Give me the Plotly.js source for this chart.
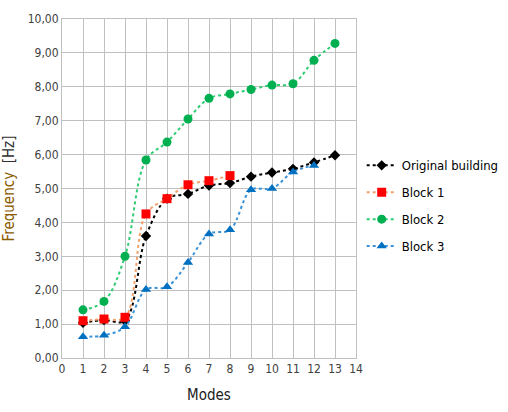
<!DOCTYPE html>
<html>
<head>
<meta charset="utf-8">
<script src="https://cdn.plot.ly/plotly-3.0.1.min.js"></script>
<style>html,body{margin:0;padding:0;background:#fff;}#chart{width:508px;height:412px;}</style>
</head>
<body>
<div id="chart"></div>
<script>
var modes = [1,2,3,4,5,6,7,8,9,10,11,12,13];
var modesBlock1 = [1,2,3,4,5,6,7,8];
var modesBlock3 = [1,2,3,4,5,6,7,8,9,10,11,12];
var original = [1.04,1.12,1.10,3.60,4.70,4.84,5.09,5.16,5.35,5.47,5.58,5.77,5.98];
var block1 = [1.10,1.15,1.20,4.25,4.70,5.11,5.23,5.38];
var block2 = [1.42,1.67,3.00,5.84,6.37,7.05,7.66,7.79,7.92,8.05,8.09,8.78,9.28];
var block3 = [0.63,0.67,0.92,2.02,2.10,2.82,3.66,3.78,4.96,5.00,5.49,5.68];
var seriesNames = ['Original building','Block 1','Block 2','Block 3'];

var FONT = '"DejaVu Sans Condensed", "Liberation Sans", Arial, sans-serif';

var traces = [
  {x: modes, y: original, name: seriesNames[0], legendgroup: 'a', mode: 'lines+markers', type: 'scatter',
   line: {color: '#000000', width: 2, dash: 'dot', shape: 'spline', smoothing: 1},
   marker: {symbol: 'diamond', size: 8, color: '#000000'}},
  {x: modesBlock1, y: block1, name: seriesNames[1], legendgroup: 'b', mode: 'lines+markers', type: 'scatter',
   line: {color: '#f4a06a', width: 2, dash: 'dot', shape: 'spline', smoothing: 1},
   marker: {symbol: 'square', size: 9, color: '#ff0000'}},
  {x: modes, y: block2, name: seriesNames[2], legendgroup: 'c', mode: 'lines+markers', type: 'scatter',
   line: {color: '#2ecc71', width: 2, dash: 'dot', shape: 'spline', smoothing: 1},
   marker: {symbol: 'circle', size: 9, color: '#00b050'}},
  {x: modesBlock3, y: block3, name: seriesNames[3], legendgroup: 'd', mode: 'lines+markers', type: 'scatter',
   line: {color: '#3a92d8', width: 2, dash: 'dot', shape: 'spline', smoothing: 1},
   marker: {symbol: 'triangle-up', size: 9, color: '#0070c0'}}
];

var layout = {
  width: 508, height: 412,
  margin: {l: 62, r: 152, t: 19, b: 54},
  paper_bgcolor: '#ffffff', plot_bgcolor: '#ffffff',
  separators: ',.',
  font: {family: FONT, color: '#404040', size: 12},
  showlegend: true,
  legend: {xref: 'container', yref: 'container', x: 0.712, xanchor: 'left', y: 0.635, yanchor: 'top',
           font: {family: FONT, size: 13, color: '#000000'},
           tracegroupgap: 7, itemwidth: 30, bgcolor: 'rgba(0,0,0,0)'},
  xaxis: {range: [0, 14], dtick: 1, tick0: 0, showgrid: true, gridcolor: '#c0c0c0', gridwidth: 1,
          zeroline: false, showline: true, linecolor: '#c0c0c0', mirror: true, ticks: '',
          tickfont: {family: FONT, size: 12, color: '#404040'},
          title: {text: 'Modes', font: {family: FONT, size: 15, color: '#202020'}, standoff: 14}},
  yaxis: {range: [0, 10], dtick: 1, tick0: 0, tickformat: '.2f', showgrid: true, gridcolor: '#c0c0c0', gridwidth: 1,
          zeroline: false, showline: true, linecolor: '#c0c0c0', mirror: true, ticks: '',
          tickfont: {family: FONT, size: 12, color: '#404040'},
          title: {text: '<span style="color:#8a5a00">Frequency</span>  [Hz]', font: {family: FONT, size: 15, color: '#303030'}, standoff: 12}}
};

Plotly.newPlot('chart', traces, layout, {displayModeBar: false, staticPlot: true});
</script>
</body>
</html>
